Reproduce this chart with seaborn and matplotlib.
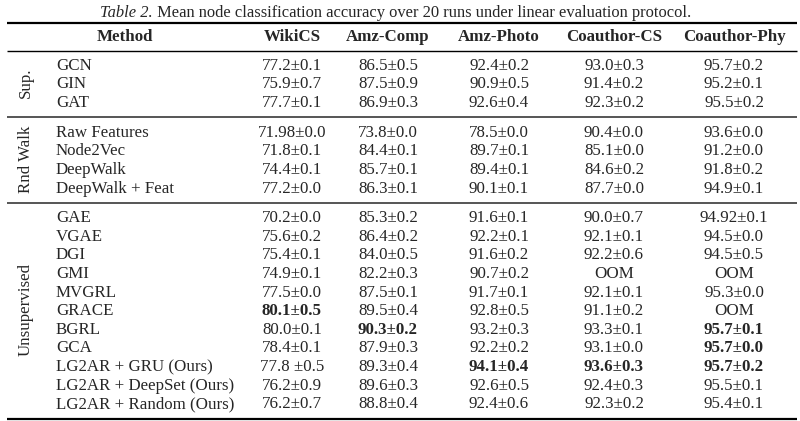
import pandas as pd
import matplotlib.pyplot as plt
import seaborn as sns

# table contents
groups = ["Sup.", "Rnd Walk", "Unsupervised"]
group_sizes = [3, 4, 11]
methods = ["GCN", "GIN", "GAT",
           "Raw Features", "Node2Vec", "DeepWalk", "DeepWalk + Feat",
           "GAE", "VGAE", "DGI", "GMI", "MVGRL", "GRACE", "BGRL", "GCA",
           "LG2AR + GRU (Ours)", "LG2AR + DeepSet (Ours)", "LG2AR + Random (Ours)"]
columns = ["WikiCS", "Amz-Comp", "Amz-Photo", "Coauthor-CS", "Coauthor-Phy"]
wikics = ["77.2±0.1", "75.9±0.7", "77.7±0.1",
          "71.98±0.0", "71.8±0.1", "74.4±0.1", "77.2±0.0",
          "70.2±0.0", "75.6±0.2", "75.4±0.1", "74.9±0.1", "77.5±0.0", "80.1±0.5",
          "80.0±0.1", "78.4±0.1", "77.8 ±0.5", "76.2±0.9", "76.2±0.7"]
amz_comp = ["86.5±0.5", "87.5±0.9", "86.9±0.3",
            "73.8±0.0", "84.4±0.1", "85.7±0.1", "86.3±0.1",
            "85.3±0.2", "86.4±0.2", "84.0±0.5", "82.2±0.3", "87.5±0.1", "89.5±0.4",
            "90.3±0.2", "87.9±0.3", "89.3±0.4", "89.6±0.3", "88.8±0.4"]
amz_photo = ["92.4±0.2", "90.9±0.5", "92.6±0.4",
             "78.5±0.0", "89.7±0.1", "89.4±0.1", "90.1±0.1",
             "91.6±0.1", "92.2±0.1", "91.6±0.2", "90.7±0.2", "91.7±0.1", "92.8±0.5",
             "93.2±0.3", "92.2±0.2", "94.1±0.4", "92.6±0.5", "92.4±0.6"]
coauthor_cs = ["93.0±0.3", "91.4±0.2", "92.3±0.2",
               "90.4±0.0", "85.1±0.0", "84.6±0.2", "87.7±0.0",
               "90.0±0.7", "92.1±0.1", "92.2±0.6", "OOM", "92.1±0.1", "91.1±0.2",
               "93.3±0.1", "93.1±0.0", "93.6±0.3", "92.4±0.3", "92.3±0.2"]
coauthor_phy = ["95.7±0.2", "95.2±0.1", "95.5±0.2",
                "93.6±0.0", "91.2±0.0", "91.8±0.2", "94.9±0.1",
                "94.92±0.1", "94.5±0.0", "94.5±0.5", "OOM", "95.3±0.0", "OOM",
                "95.7±0.1", "95.7±0.0", "95.7±0.2", "95.5±0.1", "95.4±0.1"]
bold_cells = [("GRACE", "WikiCS"), ("BGRL", "Amz-Comp"), ("BGRL", "Coauthor-Phy"),
              ("GCA", "Coauthor-Phy"), ("LG2AR + GRU (Ours)", "Amz-Photo"),
              ("LG2AR + GRU (Ours)", "Coauthor-CS"), ("LG2AR + GRU (Ours)", "Coauthor-Phy")]

title_italic = "Table 2."
title_rest = " Mean node classification accuracy over 20 runs under linear evaluation protocol."

df = pd.DataFrame({"Method": methods, "WikiCS": wikics, "Amz-Comp": amz_comp,
                   "Amz-Photo": amz_photo, "Coauthor-CS": coauthor_cs,
                   "Coauthor-Phy": coauthor_phy})
df["group"] = sum([[g] * n for g, n in zip(groups, group_sizes)], [])

sns.set_theme(style="white")
plt.rcParams["font.family"] = ["Liberation Serif", "DejaVu Serif"]
plt.rcParams["font.size"] = 12

# layout (pixel-like units)
col_x = dict(zip(columns, [292, 388, 499, 614, 734]))
method_x = 56
group_x = 26
row_step = 18.6
fs = 12.2

fig = plt.figure(figsize=(8, 4.21), dpi=100)
ax = fig.add_axes([0, 0, 1, 1])
ax.set_xlim(0, 800)
ax.set_ylim(421, 0)
ax.axis("off")

def rule(y, lw, color="black"):
    ax.plot([7, 797], [y, y], color=color, lw=lw, solid_capstyle="butt")

def cell(x, y, s, ha="center", bold=False):
    ax.text(x, y + 5.3, s, ha=ha, va="baseline", fontsize=fs,
            fontweight="bold" if bold else "normal")

# title
t1 = ax.text(100, 17, title_italic, ha="left", va="baseline", fontsize=11.9, style="italic")
ax.annotate(title_rest, xy=(1, 0), xycoords=t1, ha="left", va="bottom", fontsize=11.9)

rule(22.5, 1.6)
cell(125, 36, "Method", bold=True)
for c in columns:
    cell(col_x[c], 36, c, bold=True)
rule(51, 1.0)

y = 64.5
for g in groups:
    sub = df[df["group"] == g]
    ys = [y + i * row_step for i in range(len(sub))]
    for yy, (_, r) in zip(ys, sub.iterrows()):
        cell(method_x, yy, r["Method"], ha="left")
        for c in columns:
            cell(col_x[c], yy, r[c], bold=(r["Method"], c) in bold_cells)
    ax.text(group_x, (ys[0] + ys[-1]) / 2, g, rotation=90, ha="center", va="center",
            fontsize=fs)
    last = ys[-1] + 15.7
    if g != groups[-1]:
        rule(last, 1.4, color="#555555")
    else:
        rule(last, 1.6)
    y = last + 14

fig.savefig("out.png", dpi=100)
